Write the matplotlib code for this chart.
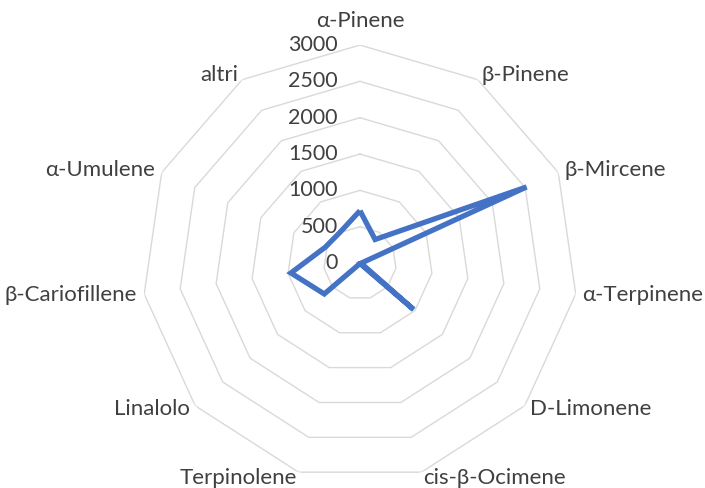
import numpy as np
import matplotlib
matplotlib.use('Agg')
import matplotlib.pyplot as plt

categories = ['α-Pinene', 'β-Pinene', 'β-Mircene', 'α-Terpinene', 'D-Limonene',
              'cis-β-Ocimene', 'Terpinolene', 'Linalolo', 'β-Cariofillene',
              'α-Umulene', 'altri']
values = [720, 385, 2520, 15, 975, 10, 10, 650, 960, 525, 505]
rings = [500, 1000, 1500, 2000, 2500, 3000]
radial_labels = ['0', '500', '1000', '1500', '2000', '2500', '3000']

plt.rcParams['font.family'] = ['Lato', 'DejaVu Sans']
text_color = '#404040'

n = len(categories)
theta = np.linspace(0, 2 * np.pi, n, endpoint=False)
theta_closed = np.append(theta, theta[0])

fig = plt.figure(figsize=(7.05, 4.88), dpi=100)
ax = fig.add_axes([0.2014, 0.0143, 0.6184, 0.8934], projection='polar')
ax.set_theta_zero_location('N')
ax.set_theta_direction(-1)
ax.set_ylim(0, 3000)
ax.grid(False)
ax.spines['polar'].set_visible(False)
ax.set_xticks([])
ax.set_yticks([])
ax.patch.set_alpha(0)

# polygon grid rings
for r in rings:
    ax.plot(theta_closed, [r] * (n + 1), color='#d9d9d9', lw=1.0, zorder=1)

# data series
vals_closed = values + values[:1]
ax.plot(theta_closed, vals_closed, color='#4472C4', lw=3.8,
        solid_joinstyle='miter', solid_capstyle='butt', zorder=3)

# radial value labels along the top spoke
for lab, r in zip(radial_labels, [0] + rings):
    ax.annotate(lab, xy=(0, r), xytext=(-16, 0), textcoords='offset points',
                ha='right', va='center', fontsize=15.5, color=text_color)

# category labels outside the outer ring
for lab, t in zip(categories, theta):
    s, c = np.sin(t), np.cos(t)
    if abs(s) < 0.1:
        ha = 'center'
    elif s > 0:
        ha = 'left'
    else:
        ha = 'right'
    if c > 0.95:
        va, dx, dy = 'bottom', 0, 10
    else:
        va, dx, dy = 'center', 5 * s, 4 * c
    ax.annotate(lab, xy=(t, 3000), xytext=(dx, dy), textcoords='offset points',
                ha=ha, va=va, fontsize=16, color=text_color,
                annotation_clip=False)

fig.savefig('out.png', dpi=100)
